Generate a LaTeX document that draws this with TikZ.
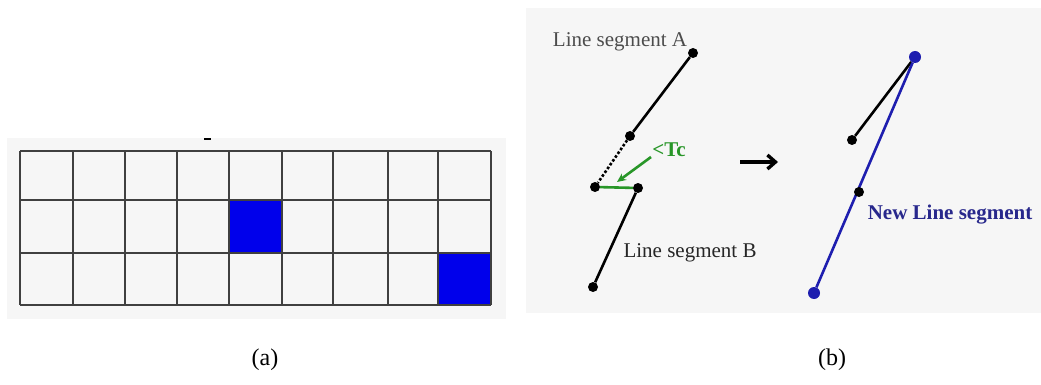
\documentclass[tikz,border=0pt]{standalone}
\usepackage{fontspec}
\setmainfont{Liberation Serif}
\usetikzlibrary{arrows.meta}
\definecolor{panel}{HTML}{F6F6F6}
\definecolor{cellblue}{RGB}{0,0,235}
\definecolor{navy}{RGB}{40,40,140}
\definecolor{lineblue}{RGB}{30,30,175}
\definecolor{tcgreen}{RGB}{40,150,40}
\begin{document}
\begin{tikzpicture}[x=1pt,y=-1pt,
  dot/.style={circle,fill=black,inner sep=0pt,minimum size=10pt},
  bdot/.style={circle,fill=lineblue,inner sep=0pt,minimum size=12pt},
  seg/.style={line width=2.6pt},
  lbl/.style={font=\fontsize{21}{24}\selectfont, inner sep=0pt},
  blbl/.style={font=\fontsize{21}{24}\selectfont\bfseries, inner sep=0pt},
  captxt/.style={font=\fontsize{24}{28}\selectfont, inner sep=0pt},
  gridline/.style={draw=black!75,line width=1.3pt}]
\useasboundingbox (0,0) rectangle (1041,385);
\fill[white] (0,0) rectangle (1041,385);
% ---------- (a) ----------
\fill[panel] (7,138) rectangle (506,319);
\fill[cellblue] (229,200) rectangle (282,253);
\fill[cellblue] (438,253) rectangle (491,305);
\foreach \x in {20,73,177,229,282,333,388,438,491}
  \draw[gridline] (\x,151) -- (\x,305);
\draw[gridline,line width=2.2pt] (125,151) -- (125,305);
\foreach \y in {151,200,253,305}
  \draw[gridline] (20,\y) -- (491,\y);
\draw[line width=1.5pt] (204,139) -- (211,139);
\node[captxt] (capa) at (265,360) {(a)};
% ---------- (b) ----------
\fill[panel] (526,8) rectangle (1041,313);
\node[dot] (a1) at (693,53) {};
\node[dot] (a2) at (630,136) {};
\node[dot] (b1) at (595,187) {};
\node[dot] (b2) at (638,188) {};
\node[dot] (b3) at (593,287) {};
\draw[seg] (a1) -- (a2);
\draw[line width=2.6pt, dotted] (a2) -- (b1);
\draw[tcgreen, line width=2.6pt] (b1) -- (b2);
\draw[seg] (b2) -- (b3);
\node[lbl, text=black!70] (la) at (620,42) {Line segment A};
\node[lbl, text=black!85] (lb) at (690,253) {Line segment B};
\node[blbl, text=tcgreen] (tc) at (669,150) {<Tc};
\coordinate (tcs) at (651,157);
\coordinate (tce) at (617,182);
\draw[tcgreen, line width=2.6pt, -{Stealth[length=9pt,width=8pt]}] (tcs) -- (tce);
\coordinate (ar1) at (740,162);
\coordinate (ar2) at (778,162);
\draw[line width=3.4pt, -{Straight Barb[length=8pt,width=14pt]}] (ar1) -- (ar2);
\node[bdot] (c1) at (915,57) {};
\node[bdot] (c4) at (814,293) {};
\node[dot] (c2) at (852,140) {};
\draw[seg] (c2) -- (c1);
\draw[lineblue, line width=2.6pt] (c1) -- (c4);
\node[dot] (c3) at (859,192) {};
\node[blbl, text=navy] (nl) at (950,215) {New Line segment};
\node[captxt] (capb) at (832,360) {(b)};
\end{tikzpicture}
\end{document}
